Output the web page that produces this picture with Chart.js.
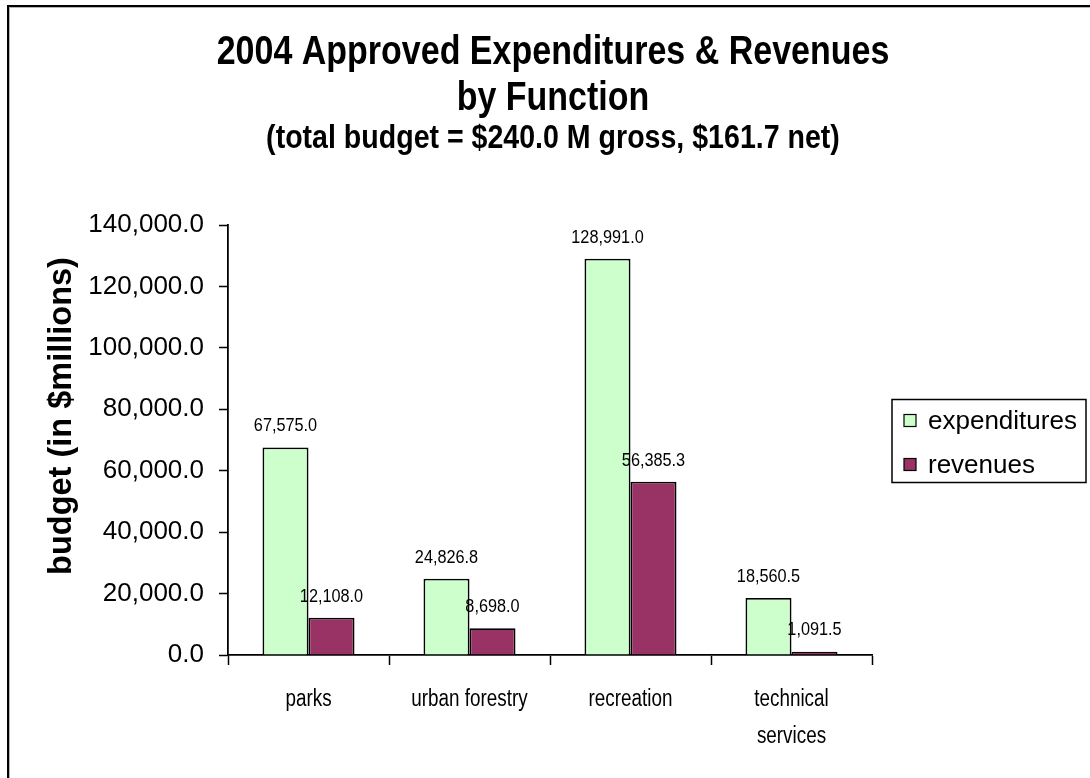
<!DOCTYPE html>
<html>
<head>
<meta charset="utf-8">
<script src="https://cdn.jsdelivr.net/npm/chart.js@4.4.1/dist/chart.umd.min.js"></script>
<style>
  html, body { margin: 0; padding: 0; background: #fff; overflow: hidden; }
  #wrap { position: relative; width: 1090px; height: 778px; overflow: hidden; }
  #frame {
    position: absolute; left: 7px; top: 5px; width: 1200px; height: 900px;
    border: 2px solid #000; box-shadow: inset 1px 1px 0 #b4b4b4;
  }
  canvas { position: absolute; left: 0; top: 0; }
</style>
</head>
<body>
<div id="wrap">
  <div id="frame"></div>
  <canvas id="budgetChart" width="1090" height="778"></canvas>
</div>
<script>
const categories = ['parks', 'urban forestry', 'recreation', ['technical', 'services']];
const expenditures = [67575.0, 24826.8, 128991.0, 18560.5];
const revenues = [12108.0, 8698.0, 56385.3, 1091.5];
const seriesNames = ['expenditures', 'revenues'];
const yMin = 0, yMax = 140000, yStep = 20000;
const titleLines = ['2004 Approved Expenditures & Revenues', 'by Function'];
const subtitleText = '(total budget = $240.0 M gross, $161.7 net)';
const yTitleText = 'budget (in $millions)';

const fmt = v => v.toLocaleString('en-US', { minimumFractionDigits: 1, maximumFractionDigits: 1 });
const sansFam = '"Liberation Sans", Arial, Helvetica, sans-serif';

// the original uses condensed faces, so squeeze the regular one sideways
function squeezedText(ctx, text, x, y, font, sx) {
  ctx.save();
  ctx.font = font;
  ctx.fillStyle = '#000';
  ctx.textAlign = 'center';
  ctx.textBaseline = 'middle';
  ctx.translate(x, y);
  ctx.scale(sx, 1);
  ctx.fillText(text, 0, 0);
  ctx.restore();
}

const titles = {
  id: 'titles',
  afterDraw(chart) {
    const ctx = chart.ctx;
    const cx = chart.width / 2 + 8;
    squeezedText(ctx, titleLines[0], cx, 53, 'bold 40px ' + sansFam, 0.85);
    squeezedText(ctx, titleLines[1], cx, 99, 'bold 40px ' + sansFam, 0.85);
    squeezedText(ctx, subtitleText, cx, 139, 'bold 34px ' + sansFam, 0.84);
  }
};

const categoryLabels = {
  id: 'categoryLabels',
  afterDraw(chart) {
    const ctx = chart.ctx;
    const xs = chart.scales.x;
    chart.data.labels.forEach((lab, i) => {
      const lines = Array.isArray(lab) ? lab : [lab];
      const x = xs.getPixelForTick(i);
      lines.forEach((ln, k) => {
        squeezedText(ctx, ln, x, 700 + k * 37, '23px ' + sansFam, 0.82);
      });
    });
  }
};

const valueLabels = {
  id: 'valueLabels',
  afterDatasetsDraw(chart) {
    const ctx = chart.ctx;
    chart.data.datasets.forEach((ds, i) => {
      chart.getDatasetMeta(i).data.forEach((bar, j) => {
        squeezedText(ctx, fmt(ds.data[j]), bar.x, bar.y - 21, '17.5px ' + sansFam, 0.93);
      });
    });
  }
};

const boxLegend = {
  id: 'boxLegend',
  afterDraw(chart) {
    const ctx = chart.ctx;
    const area = chart.chartArea;
    const x = area.right + 20, w = 194, h = 83;
    const y = (area.top + area.bottom) / 2 - h / 2 + 1;
    ctx.save();
    ctx.lineWidth = 1.5;
    ctx.strokeStyle = '#000';
    ctx.strokeRect(x, y, w, h);
    ctx.font = '26px ' + sansFam;
    ctx.textBaseline = 'middle';
    chart.data.datasets.forEach((ds, i) => {
      const cy = y + 21 + i * 44;
      ctx.fillStyle = ds.backgroundColor;
      ctx.fillRect(x + 12, cy - 6, 12, 12);
      ctx.lineWidth = 1.2;
      ctx.strokeRect(x + 12, cy - 6, 12, 12);
      ctx.fillStyle = '#000';
      ctx.fillText(ds.label, x + 36, cy + 1);
    });
    ctx.restore();
  }
};

const yTitle = {
  id: 'yTitle',
  afterDraw(chart) {
    const ctx = chart.ctx;
    const area = chart.chartArea;
    ctx.save();
    ctx.translate(62, (area.top + area.bottom) / 2 - 24);
    ctx.rotate(-Math.PI / 2);
    ctx.font = 'bold 32.5px ' + sansFam;
    ctx.fillStyle = '#000';
    ctx.textAlign = 'center';
    ctx.textBaseline = 'middle';
    ctx.fillText(yTitleText, 0, 0);
    ctx.restore();
  }
};

new Chart(document.getElementById('budgetChart'), {
  type: 'bar',
  data: {
    labels: categories,
    datasets: [
      {
        label: seriesNames[0],
        data: expenditures,
        backgroundColor: '#CCFFCC',
        borderColor: '#000',
        borderWidth: 1.8,
        categoryPercentage: 2 / 3.5,
        barPercentage: 1
      },
      {
        label: seriesNames[1],
        data: revenues,
        backgroundColor: '#993366',
        borderColor: '#000',
        borderWidth: 1.8,
        categoryPercentage: 2 / 3.5,
        barPercentage: 1
      }
    ]
  },
  options: {
    responsive: false,
    animation: false,
    layout: { padding: { top: 225, right: 218, left: 0, bottom: 0 } },
    plugins: {
      legend: { display: false },
      tooltip: { enabled: false },
      title: { display: false }
    },
    scales: {
      x: {
        afterFit(scale) { scale.height = 123; },
        grid: {
          offset: true,
          drawOnChartArea: false,
          drawTicks: true,
          tickLength: 10,
          tickColor: '#000',
          tickWidth: 1.5
        },
        border: { display: true, color: '#000', width: 1.8 },
        ticks: {
          color: 'rgba(0,0,0,0)',
          maxRotation: 0,
          minRotation: 0,
          autoSkip: false,
          font: { family: sansFam, size: 18 }
        }
      },
      y: {
        min: yMin,
        max: yMax,
        afterFit(scale) { scale.width = 228; },
        grid: {
          drawOnChartArea: false,
          drawTicks: true,
          tickLength: 9,
          tickColor: '#000',
          tickWidth: 1.5
        },
        border: { display: true, color: '#000', width: 1.8 },
        ticks: {
          stepSize: yStep,
          color: '#000',
          padding: 15,
          font: { family: sansFam, size: 26 },
          callback: v => fmt(v)
        }
      }
    }
  },
  plugins: [valueLabels, titles, categoryLabels, boxLegend, yTitle]
});
</script>
</body>
</html>
